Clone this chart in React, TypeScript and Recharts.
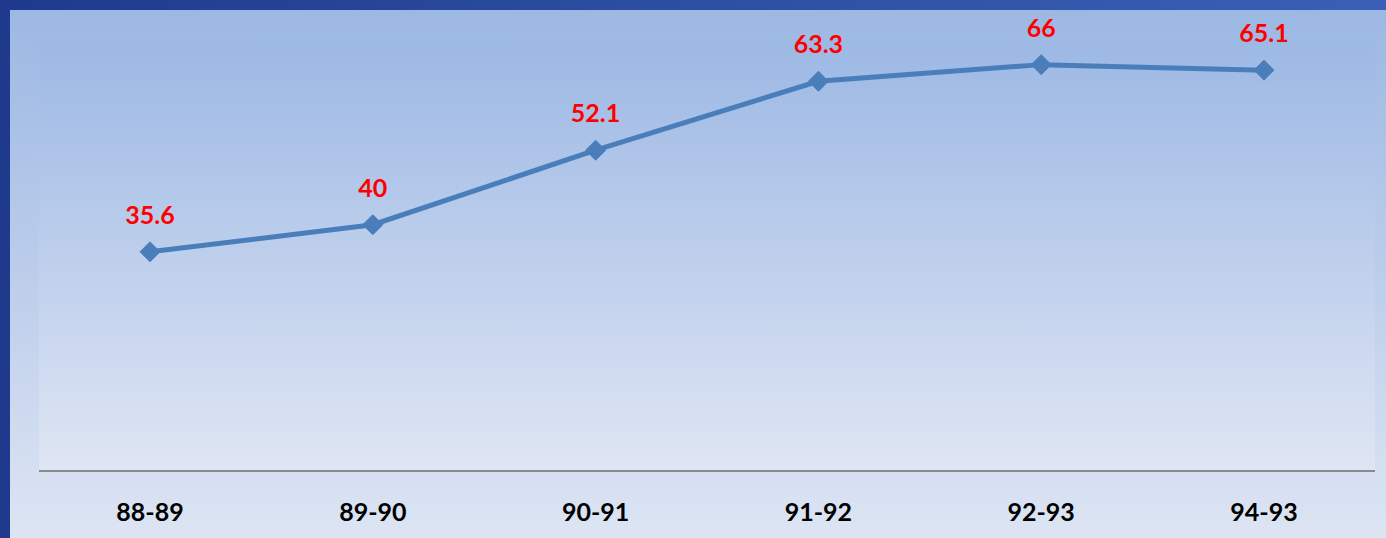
import React from 'react';
import { LineChart, Line, XAxis, YAxis, CartesianGrid, LabelList } from 'recharts';

const categories = ['88-89', '89-90', '90-91', '91-92', '92-93', '94-93'];
const values = [35.6, 40, 52.1, 63.3, 66, 65.1];

const data = categories.map((c, i) => ({ name: c, value: values[i] }));

const FONT = 'Lato, "Open Sans", "DejaVu Sans", sans-serif';

const Diamond = (props: any) => {
  const { cx, cy } = props;
  if (cx == null || cy == null) return null;
  const r = 10;
  return (
    <path
      d={`M${cx},${cy - r} L${cx + r},${cy} L${cx},${cy + r} L${cx - r},${cy} Z`}
      fill="#4a7ebb"
      stroke="#4a7ebb"
      strokeWidth={1}
    />
  );
};

const Tick = (props: any) => {
  const { x, y, payload } = props;
  return (
    <text
      x={x}
      y={y + 40}
      textAnchor="middle"
      dominantBaseline="central"
      fontFamily={FONT}
      fontWeight={700}
      fontSize={25}
      fill="#000"
    >
      {payload.value}
    </text>
  );
};

const ValueLabel = (props: any) => {
  const { x, y, value } = props;
  return (
    <text
      x={x}
      y={y - 38}
      textAnchor="middle"
      dominantBaseline="central"
      fontFamily={FONT}
      fontWeight={700}
      fontSize={25}
      fill="#ff0000"
    >
      {value}
    </text>
  );
};

export default function App() {
  return (
    <div
      style={{
        position: 'fixed',
        left: 0,
        top: 0,
        width: 1386,
        height: 538,
        background: 'linear-gradient(90deg, #1f3a8c 0%, #2d4fa3 50%, #3a5fb4 100%)',
        overflow: 'hidden',
      }}
    >
      <div
        style={{
          position: 'absolute',
          left: 10,
          top: 10,
          width: 1376,
          height: 528,
          background: 'linear-gradient(180deg, #9cb8e3 0%, #b9cbea 45%, #dde5f3 100%)',
        }}
      >
        <LineChart
          width={1376}
          height={528}
          data={data}
          margin={{ top: 30, right: 11, bottom: 17, left: 29 }}
        >
          <defs>
            <linearGradient id="plotBg" x1="0" y1="0" x2="0" y2="1">
              <stop offset="0%" stopColor="#9cb8e4" />
              <stop offset="100%" stopColor="#dfe6f4" />
            </linearGradient>
          </defs>
          <CartesianGrid horizontal={false} vertical={false} fill="url(#plotBg)" />
          <XAxis
            dataKey="name"
            padding={{ left: 111, right: 111 }}
            axisLine={{ stroke: '#8a8a8a', strokeWidth: 2 }}
            tickLine={false}
            tickSize={0}
            tickMargin={0}
            height={50}
            tick={<Tick />}
            interval={0}
          />
          <YAxis hide domain={[0, 70]} />
          <Line
            type="linear"
            dataKey="value"
            stroke="#4a7ebb"
            strokeWidth={5}
            dot={<Diamond />}
            activeDot={false}
            isAnimationActive={false}
          >
            <LabelList dataKey="value" content={<ValueLabel />} />
          </Line>
        </LineChart>
      </div>
    </div>
  );
}
